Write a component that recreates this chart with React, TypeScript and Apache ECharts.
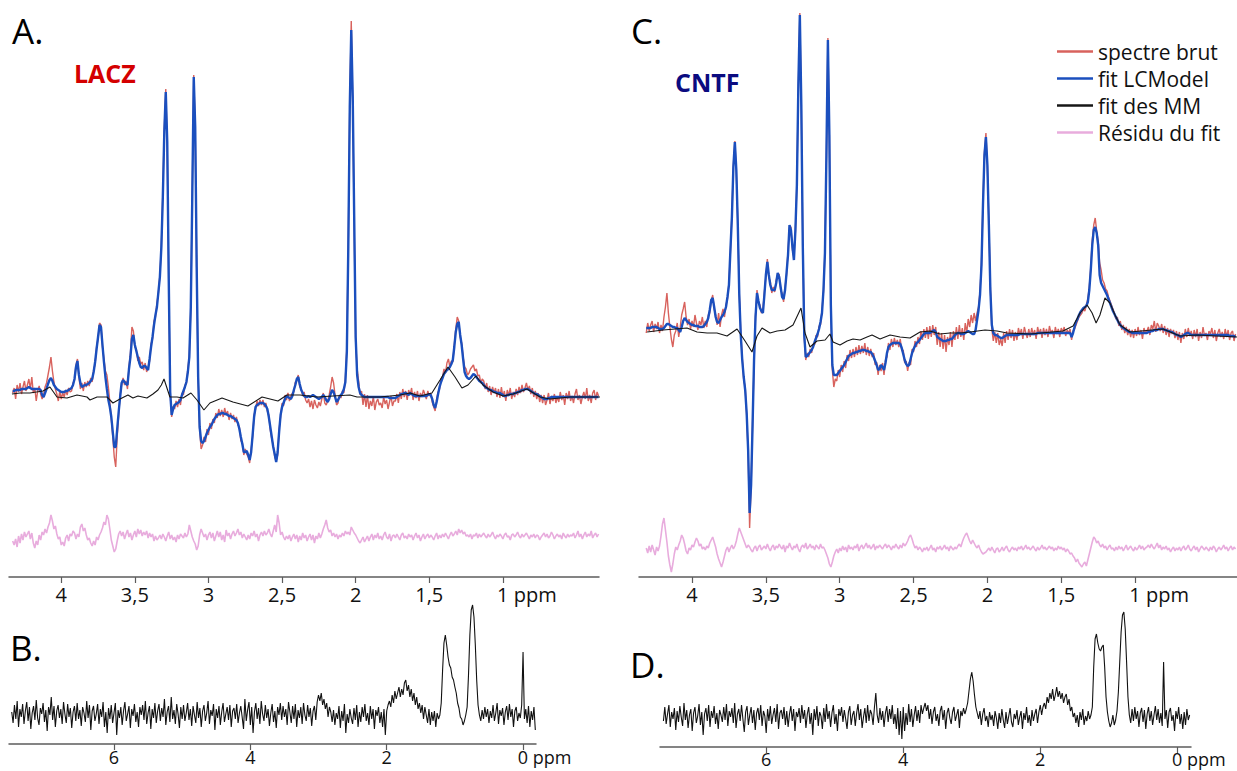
import React, { useEffect, useRef } from "react";
import * as echarts from "echarts";

const FONT = "'Open Sans', 'DejaVu Sans', sans-serif";

// sampling of the spectra (ppm of the first sample, step between samples)
const A_START_PPM = 4.33;
const C_START_PPM = 4.31;
const TOP_STEP = 0.01;
const BD_START_PPM = 7.5;
const BD_STEP = 0.02;

const TOP_TICKS = [4, 3.5, 3, 2.5, 2, 1.5, 1];
const BOTTOM_TICKS = [6, 4, 2, 0];

const LEGEND_NAMES = ["spectre brut", "fit LCModel", "fit des MM", "Résidu du fit"];

// ---------- Panel A (LACZ) ----------
const A_RAW = [
  4, 9, -2, 12, 5, 14, 3, 10, 16, 6,
  12, 18, 8, 20, 4, 9, -4, 6, 11, 3,
  -2, 2, 10, 14, 22, 30, 40, 26, 15, 8,
  3, -4, 6, -2, 4, 0, 7, 2, 9, 5,
  6, 14, 17, 32, 38, 20, 8, 14, 6, 15,
  10, 16, 11, 19, 15, 27, 33, 50, 58, 74,
  72, 50, 38, 26, 22, 10, -5, -22, -40, -60,
  -70, -40, -18, 2, 12, 19, 12, 16, 8, 30,
  44, 70, 66, 50, 48, 36, 40, 33, 35, 27,
  34, 25, 30, 36, 53, 58, 76, 80, 94, 104,
  122, 150, 205, 268, 308, 250, 115, 3, -20, -9,
  -12, -4, -10, -2, -8, 4, 2, 12, 13, 28,
  42, 88, 205, 322, 268, 128, 18, -32, -52, -48,
  -40, -45, -32, -38, -26, -32, -22, -26, -16, -21,
  -12, -19, -13, -20, -11, -18, -14, -23, -16, -22,
  -18, -25, -20, -28, -30, -44, -45, -58, -52, -57,
  -60, -66, -52, -40, -18, -12, -4, -9, -3, -8,
  -3, -10, -6, -14, -18, -33, -42, -48, -60, -64,
  -58, -32, -20, -6, -9, 2, -3, 4, -4, 1,
  4, 5, 15, 16, 22, 10, 9, 1, 5, -3,
  -6, -2, -10, -4, -12, -3, -8, -11, -5, -9,
  -2, 4, -6, -8, -4, 2, 10, 20, 14, 2,
  -8, -6, 2, -1, 6, 4, 18, 50, 155, 295,
  376, 295, 170, 55, 28, 16, 2, 6, -8, 3,
  -10, 2, -12, -4, -9, 1, -13, -5, -2, -8,
  -6, -11, 0, -7, -3, -12, -5, 1, -9, -4,
  -4, 3, -6, 5, -2, 8, 0, 6, -3, 7,
  2, 9, -3, 5, -1, 6, -4, 4, 0, 7,
  3, -2, 6, 1, 4, -5, -10, -14, -2, 5,
  8, 18, 20, 28, 24, 34, 38, 30, 36, 35,
  52, 68, 80, 76, 60, 54, 40, 30, 28, 22,
  24, 28, 30, 32, 26, 28, 21, 22, 14, 18,
  16, 8, 14, 5, 11, 2, 10, 4, 9, 0,
  8, -1, 10, 0, 6, -4, 7, 1, 9, -2,
  5, 0, 8, 2, 10, 4, 12, 5, 9, 14,
  7, 11, 3, 9, 0, 6, -2, 4, -5, 2,
  -6, 2, -8, -3, 4, -7, 1, -4, 3, -6,
  0, -5, 5, -3, 2, -8, 4, -2, 6, -4,
  1, -6, 3, 8, -3, 2, -7, 0, 5, -2,
  9, -4, 2, -6, 4, 7, -3, 5, 1,
];

const A_FIT = [
  6, 6, 7, 7, 7, 7, 8, 8, 8, 8,
  9, 10, 9, 8, 8, 8, 8, 8, 8, 7,
  2, 0, 4, 8, 13, 17, 19, 16, 12, 10,
  8, 7, 6, 5, 5, 5, 6, 6, 7, 8,
  9, 12, 18, 30, 36, 22, 14, 10, 11, 12,
  12, 13, 14, 16, 18, 25, 35, 48, 60, 72,
  70, 52, 35, 20, 8, -3, -10, -20, -35, -50,
  -50, -32, -15, 0, 14, 17, 15, 13, 12, 28,
  40, 58, 62, 52, 46, 40, 34, 30, 29, 31,
  31, 29, 27, 38, 50, 60, 72, 82, 90, 105,
  120, 150, 200, 265, 305, 255, 120, 5, -18, -12,
  -8, -7, -6, -5, -3, 2, 6, 10, 15, 25,
  40, 90, 200, 320, 270, 130, 20, -30, -44, -46,
  -44, -40, -36, -33, -30, -28, -25, -22, -20, -18,
  -17, -17, -16, -16, -17, -17, -18, -19, -19, -20,
  -21, -22, -23, -26, -32, -40, -47, -55, -55, -54,
  -58, -63, -55, -38, -20, -10, -8, -7, -6, -6,
  -6, -7, -9, -12, -20, -30, -40, -50, -57, -65,
  -55, -35, -18, -10, -6, -2, 1, 0, -1, -2,
  1, 7, 12, 18, 20, 13, 7, 4, 1, 0,
  0, 1, 0, 1, 2, 1, 0, -1, -2, -1,
  0, 2, 0, -3, -5, -2, 3, 7, 5, 0,
  -5, -3, 0, 2, 4, 8, 15, 45, 150, 290,
  367, 300, 180, 60, 22, 10, 4, 2, 1, 0,
  0, 0, 0, 0, 0, 0, 0, 0, 0, 0,
  0, 0, 0, 0, 0, 0, -1, -1, -1, -1,
  -1, 0, 1, 2, 3, 3, 4, 4, 3, 2,
  4, 3, 2, 1, 1, 1, 1, 1, 1, 1,
  1, 1, 2, 3, 2, -2, -8, -11, -5, 3,
  10, 15, 19, 23, 25, 27, 28, 30, 33, 37,
  50, 65, 73, 75, 62, 52, 38, 25, 21, 19,
  18, 19, 21, 23, 22, 20, 18, 16, 15, 14,
  12, 10, 9, 8, 7, 7, 6, 5, 5, 4,
  4, 4, 3, 2, 1, 1, 2, 2, 3, 3,
  3, 4, 4, 5, 5, 6, 7, 7, 8, 8,
  8, 7, 6, 5, 4, 3, 3, 2, 1, 0,
  -1, -2, -2, -2, -1, -1, 0, 0, 0, 0,
  0, 0, 0, 0, 0, 0, 0, 0, 0, 0,
  0, 0, 0, 0, 0, 0, 0, 0, 0, 0,
  0, 0, 0, 0, 0, 0, 0, 0, 0,
];

const A_MM: [number, number][] = [
  [4.335, 3], [4.28, 4], [4.213, 4], [4.124, 6], [4.077, 10], [4.029, 0], [3.961, -1],
  [3.893, 2], [3.825, 0], [3.805, -3], [3.757, 0], [3.689, 0], [3.649, -6], [3.601, -2],
  [3.547, 2], [3.513, -1], [3.479, 1], [3.418, -1], [3.377, 3], [3.343, 7], [3.32, 12],
  [3.302, 18], [3.262, 0], [3.214, 0], [3.173, -1], [3.119, 4], [3.078, -3], [3.031, -13],
  [2.99, -6], [2.908, -1], [2.834, -5], [2.732, -9], [2.636, 0], [2.582, -2], [2.528, -4],
  [2.467, 2], [2.378, 2], [2.263, 0], [2.154, 1], [2.039, 2], [1.991, 0], [1.835, 0],
  [1.699, 2], [1.631, 4], [1.563, 1], [1.482, 4], [1.427, 17], [1.373, 30], [1.325, 20],
  [1.278, 9], [1.237, 12], [1.183, 21], [1.135, 12], [1.067, 5], [0.999, 1], [0.931, 3],
  [0.836, 8], [0.748, 0], [0.68, -2], [0.544, 0], [0.34, 0],
];

const A_RES = [
  -4, -8, -2, -10, 1, -6, 3, -3, 5, 0,
  3, 6, -2, 4, -6, -11, -4, -8, 2, -3,
  5, 2, 8, 4, 10, 14, 22, 16, 8, 11,
  3, -2, 0, -8, -5, -9, -1, 2, -4, 3,
  1, 6, 4, -2, 3, 0, 10, 13, 6, 9,
  2, -3, -1, -6, -9, -4, -8, 0, -3, 2,
  5, 9, 15, 12, 22, 18, 8, -3, -9, -15,
  -12, -4, 3, 6, 1, 5, -2, 3, 7, 0,
  4, -3, 2, 6, 0, 8, 3, 7, 1, 5,
  2, 6, -1, 4, 0, 3, -4, 1, -3, -1,
  2, -2, 3, 0, -4, 1, 5, -2, 2, -3,
  0, -5, 2, -2, 3, 1, -1, 4, 0, 3,
  12, 6, 0, -4, -7, -13, -9, 2, 8, 4,
  0, 3, -3, 2, 5, -1, 4, -4, 1, 6,
  0, 5, -3, 2, -5, 7, 1, 4, -2, 3,
  6, 1, 4, 8, 2, 5, -1, 3, 0, -3,
  2, -2, 4, 1, 6, 0, 3, -4, 2, 5,
  1, 6, 2, 4, 8, 3, 0, 6, 12, 5,
  22, 14, 2, 5, 0, -3, 1, -2, 2, -4,
  0, 3, -2, 2, -5, 1, -3, 4, -1, 2,
  -4, 0, 3, -3, 2, -6, 1, -2, 4, -1,
  3, 8, 12, 17, 9, 5, 7, 1, 4, 0,
  3, -2, 2, 0, 4, 1, 6, 3, 5, 2,
  10, 7, 4, 2, -1, -4, -6, -3, 0, -5,
  -2, 1, -4, 0, 3, -3, 2, -1, 4, -2,
  1, -3, 2, 5, 0, -2, 3, -4, 1, 2,
  -1, 3, 0, -3, 2, 4, -1, 1, -2, 3,
  0, 2, -3, 1, 4, -1, 2, -4, 0, 3,
  -2, 1, 3, -1, 2, 0, -3, 1, 4, -2,
  2, -1, 3, 0, 4, 1, -2, 2, 5, 1,
  3, 6, 2, 8, 4, 7, 3, 5, 1, 2,
  0, 3, -2, 2, 1, 4, -1, 3, 0, 2,
  4, 1, -1, 3, 0, 2, 5, 1, -2, 2,
  0, 3, 1, -2, 2, 4, 0, 1, -3, 2,
  3, 0, 2, 5, 1, -1, 3, 0, 2, 4,
  1, -2, 2, 0, 3, -1, 2, 1, -3, 0,
  2, 4, 0, 3, -1, 1, 5, 2, -2, 1,
  3, 0, 2, -2, 4, 1, -1, 3, 0, 2,
  1, 4, -1, 2, 6, 0, 3, -2, 2, 5,
  0, 3, 1, 6, -1, 2, 4, 0, 3,
];

// ---------- Panel C (CNTF) ----------
const C_RAW = [
  2, 12, 4, 10, 14, 3, 11, 6, 13, 2,
  10, 4, 18, 28, 42, 22, 8, -4, -12, 0,
  4, 12, -2, 8, 20, 26, 33, 18, 10, 16,
  6, 14, 8, 20, 12, 5, 14, 10, 18, 7,
  14, 8, 20, 22, 34, 40, 26, 20, 10, 22,
  8, 20, 26, 18, 30, 36, 52, 83, 120, 170,
  194, 163, 112, 42, 3, -22, -45, -52, -80, -118,
  -193, -152, -88, -28, 20, 45, 32, 30, 22, 25,
  43, 58, 76, 57, 54, 42, 48, 43, 55, 60,
  61, 45, 42, 33, 48, 60, 84, 108, 108, 85,
  78, 103, 152, 248, 322, 228, 92, -3, -25, -18,
  -22, -14, -18, -9, -10, 0, -2, 9, 10, 25,
  43, 84, 178, 297, 198, 28, -35, -52, -44, -46,
  -35, -42, -30, -37, -26, -33, -20, -26, -15, -23,
  -14, -22, -12, -20, -10, -19, -11, -18, -8, -20,
  -12, -21, -14, -22, -18, -30, -27, -40, -30, -36,
  -28, -40, -25, -22, -8, -15, -4, -12, -3, -10,
  -5, -12, -4, -16, -15, -28, -26, -36, -27, -30,
  -14, -17, -6, -12, -2, -9, 4, -5, 6, -3,
  8, -4, 9, -2, 10, 0, 8, -10, 3, -12,
  2, -14, 0, -17, -2, -10, 3, -12, 4, -5,
  8, -4, 10, -2, 7, -5, 12, 2, 16, 8,
  20, 12, 22, 14, 22, 28, 44, 72, 132, 183,
  202, 168, 112, 48, 6, -6, 3, -8, 2, -10,
  -4, -11, 2, -8, 4, -5, 6, -3, 5, -6,
  3, -5, 7, 0, 6, -4, 8, 2, -3, 6,
  -2, 7, 0, 5, -4, 8, 1, 6, -3, 7,
  0, 6, -2, 9, 2, 5, -3, 8, 1, 6,
  -2, 7, 3, 8, -1, 5, 2, 6, -5, 4,
  6, 10, 14, 18, 20, 22, 26, 24, 30, 36,
  48, 68, 95, 110, 117, 104, 94, 72, 65, 55,
  52, 46, 44, 38, 34, 30, 26, 22, 16, 18,
  9, 14, 5, 10, 2, 8, 0, 6, -2, 5,
  -3, 6, -1, 8, 0, 5, -4, 7, 2, 4,
  8, 0, 10, 6, 14, 3, 12, 9, 4, 11,
  2, 9, 0, 7, -2, 6, 1, 5, -3, 4,
  -5, 3, -8, 2, -4, 6, -2, 7, -1, 4,
  -4, 5, -2, 6, -6, 3, -3, 8, -1, 2,
  -5, 4, 1, 7, -3, 5, -6, 2, 6, -2,
  3, -4, 6, -2, 5, -5, 2, 4, -6, 1,
];

const C_FIT = [
  7, 7, 7, 7, 8, 8, 8, 8, 7, 6,
  6, 6, 7, 9, 11, 11, 10, 9, 8, 8,
  7, 7, 5, 3, 8, 14, 17, 15, 13, 12,
  11, 10, 10, 9, 9, 9, 8, 8, 8, 9,
  11, 13, 17, 25, 35, 37, 28, 18, 13, 12,
  15, 18, 20, 23, 28, 38, 50, 85, 118, 168,
  193, 165, 110, 40, 0, -25, -42, -55, -78, -115,
  -178, -150, -90, -25, 18, 42, 34, 27, 24, 22,
  40, 60, 73, 60, 50, 45, 45, 45, 52, 62,
  58, 48, 38, 36, 45, 62, 80, 110, 105, 88,
  75, 105, 150, 250, 320, 230, 90, 0, -22, -21,
  -19, -17, -15, -12, -7, -3, 1, 6, 13, 22,
  45, 82, 180, 295, 200, 30, -30, -40, -40, -40,
  -38, -36, -34, -32, -30, -27, -24, -21, -20, -19,
  -18, -18, -17, -17, -16, -16, -15, -15, -15, -16,
  -16, -17, -17, -19, -22, -26, -30, -35, -34, -30,
  -32, -35, -28, -18, -12, -10, -9, -8, -8, -8,
  -8, -8, -9, -13, -19, -25, -29, -31, -30, -24,
  -18, -14, -11, -8, -7, -5, -3, -1, 1, 2,
  2, 2, 2, 3, 4, 5, 3, -2, -3, -4,
  -5, -6, -6, -6, -5, -5, -4, -4, -2, 0,
  1, 2, 2, 1, 1, 1, 2, 3, 4, 3,
  2, 1, 1, 5, 15, 25, 40, 70, 130, 180,
  198, 170, 110, 45, 10, 2, 0, 0, -1, -2,
  -3, -3, -2, -1, 0, 0, 0, 0, 0, 0,
  0, 0, 0, 1, 1, 1, 1, 1, 1, 1,
  1, 1, 1, 1, 1, 2, 2, 2, 2, 2,
  2, 2, 2, 2, 2, 2, 2, 2, 2, 2,
  2, 2, 2, 2, 2, 2, 2, 2, -2, 2,
  8, 13, 16, 20, 23, 25, 27, 28, 29, 33,
  45, 65, 90, 105, 108, 102, 90, 60, 52, 49,
  46, 43, 40, 36, 32, 28, 24, 21, 18, 15,
  12, 10, 8, 7, 6, 5, 4, 3, 3, 2,
  2, 2, 2, 2, 2, 2, 2, 2, 2, 2,
  3, 3, 4, 4, 5, 5, 5, 6, 6, 6,
  6, 5, 5, 4, 4, 3, 3, 2, 1, 0,
  0, -1, -2, -1, 0, 1, 2, 2, 1, 0,
  0, 0, 0, 0, 0, 0, 0, 0, 0, 0,
  0, 0, 0, 0, 0, 0, 0, 0, 0, 0,
  0, 0, 0, 0, 0, -1, -1, -1, -1, -2,
];

const C_MM: [number, number][] = [
  [4.304, 3], [4.196, 5], [4.034, 7], [3.966, 3], [3.898, 2], [3.831, 2], [3.763, -1],
  [3.695, 6], [3.641, -6], [3.594, -17], [3.56, -1], [3.526, 7], [3.472, 2], [3.424, 4],
  [3.37, 5], [3.316, 10], [3.262, 27], [3.235, 2], [3.201, -12], [3.154, -6], [3.099, -5],
  [3.066, 1], [3.045, -7], [2.998, -10], [2.95, -6], [2.91, -4], [2.862, -5], [2.815, -2],
  [2.781, 0], [2.727, -4], [2.659, 0], [2.592, -2], [2.524, -3], [2.456, 3], [2.389, 4],
  [2.321, 1], [2.253, 2], [2.185, 2], [2.118, 3], [2.016, 5], [1.935, 4], [1.867, 2],
  [1.711, 1], [1.488, 4], [1.42, 9], [1.373, 22], [1.325, 30], [1.291, 22], [1.264, 12],
  [1.238, 20], [1.204, 37], [1.17, 32], [1.136, 20], [1.102, 10], [1.034, 3], [0.811, 6],
  [0.696, -1], [0.581, 0], [0.31, -2],
];

const C_RES = [
  2, -3, 4, -2, 5, 0, -5, 3, -1, 4,
  14, 26, 32, 20, 8, -6, -15, -22, -14, -4,
  3, 0, 5, 9, 15, 12, 6, -1, -4, 2,
  0, 5, 3, 8, 12, 9, 4, 6, 1, 3,
  0, 4, 2, 7, 10, 13, 8, 3, -4, -9,
  -13, -17, -12, -6, 0, 3, -2, 2, 5, 1,
  4, 9, 16, 22, 18, 14, 10, 6, 2, 5,
  3, 0, -2, 2, 4, -1, 3, 5, 0, 2,
  4, 1, 6, 2, -1, 3, 5, 0, 4, 2,
  6, 3, 1, 5, -2, 4, 2, 7, 3, 0,
  4, 2, 6, 1, -2, 3, 5, 2, 7, 1,
  3, 6, 2, 4, 0, 5, 3, 1, 6, 2,
  3, 0, -4, -8, -14, -17, -12, -6, -2, 1,
  -3, 2, -1, 4, 0, 3, -2, 5, 1, 3,
  0, 4, 2, 6, -1, 3, 5, 1, 4, 7,
  2, 5, 1, 3, 6, 0, 4, 2, 5, 3,
  1, 4, 6, 2, 5, 3, 0, 4, 2, 6,
  3, 1, 5, 2, 7, 4, 6, 9, 13, 15,
  11, 6, 2, 4, 0, 3, 1, -2, 2, 0,
  3, -1, 2, 5, 0, 2, -2, 3, 1, 4,
  0, 2, 5, 1, 3, -1, 4, 2, 0, 3,
  1, 4, 6, 3, 8, 12, 15, 17, 13, 9,
  6, 10, 7, 4, 2, 5, 1, -2, -4, -3,
  -2, 0, 2, -1, 3, 0, -3, 1, 2, -2,
  0, 3, -1, 2, 4, 0, -2, 1, 3, 0,
  2, -1, 3, 1, 4, 0, 2, 5, 1, 3,
  0, 2, 4, 1, -1, 3, 0, 2, 5, 1,
  3, 0, 2, 4, 1, 3, -1, 2, 0, 4,
  1, 3, 0, 2, -2, 1, -1, -4, -3, -6,
  -8, -12, -9, -13, -15, -17, -14, -12, -16, -10,
  -4, 2, 8, 13, 11, 7, 9, 5, 3, 6,
  2, 4, 0, 3, 5, 1, 2, -1, 3, 0,
  4, 1, 3, -1, 2, 5, 0, 2, 4, 1,
  -1, 3, 0, 2, 5, 1, 4, 0, 2, 3,
  5, 2, 6, 3, 1, 4, 7, 2, 5, 0,
  3, 1, 4, 0, 2, -2, 1, 3, -1, 2,
  0, 3, -1, 2, 4, 0, 2, 5, 1, -1,
  2, 4, 0, 3, -2, 1, 4, 2, 0, 3,
  1, -1, 3, 0, 4, 2, -2, 1, 3, 0,
  2, 5, 1, 3, -1, 2, 4, 0, 3, 1,
];

// ---------- Panel B (LACZ, wide range) ----------
const B_SPEC = [
  3, -8, 10, -4, 14, -12, 6, -2, 11, -9,
  4, 13, -6, 8, -14, 2, 9, -5, 15, -3,
  -10, 7, 1, 12, -7, 5, -16, 8, 0, 18,
  -5, 9, -12, 4, 10, -3, 6, -9, 13, 1,
  -8, 11, -2, 7, -13, 3, 9, -6, 12, -4,
  5, -11, 8, 2, -7, 14, -3, 10, -15, 4,
  9, -6, 1, 11, -9, 6, -2, 13, -12, 3,
  -18, 7, -4, 10, -8, 2, 12, -20, 5, -3,
  8, -10, 4, 13, -6, 1, 9, -13, 6, -1,
  11, -7, 3, -12, 8, 0, 10, -5, 14, -9,
  2, 9, -14, 6, -3, 12, -8, 4, 11, -6,
  7, -2, 16, -10, 3, 9, -7, 18, -4, 5,
  -9, 11, 1, -13, 8, -4, 10, -6, 2, 12,
  -5, 6, -11, 9, 0, -8, 13, -3, 7, -12,
  4, 10, -6, 2, 14, -9, 5, -1, 11, -15,
  6, -3, 9, -10, 3, 12, -7, 1, 8, -5,
  10, -12, 4, 7, -4, 11, -8, 2, 9, -2,
  -14, 16, -6, 5, 13, -10, 8, -18, 3, 12,
  -4, 7, -9, 14, 1, -6, 10, -3, 6, -11,
  2, 11, -7, 4, -13, 8, 0, 12, -5, 9,
  -2, 6, -10, 13, 3, -8, 9, -4, 11, -12,
  5, -3, 8, -9, 12, 0, -6, 10, -2, 7,
  -11, 4, 9, -5, 13, 20, 14, 22, 10, 16,
  6, 12, -2, 8, 3, -7, 5, -10, 2, -4,
  9, -13, 4, -6, 11, -18, 1, -8, 6, -3,
  -9, 7, -5, 10, -12, 3, -7, 8, -2, 11,
  -6, 2, -10, 9, -4, 6, -14, 5, -1, 8,
  -8, 3, -12, 6, -20, 4, 10, 14, 8, 20,
  12, 24, 16, 22, 28, 18, 26, 20, 32, 35,
  24, 30, 18, 26, 14, 22, 10, 18, 6, 12,
  2, 10, -4, 8, 0, -8, 6, -10, 3, -6,
  4, -12, 2, -4, 0, 12, 45, 72, 80, 70,
  58, 50, 47, 38, 35, 28, 22, 12, 7, -2,
  -4, -10, -6, 0, 8, 40, 80, 105, 110, 98,
  70, 35, 10, 0, -6, 5, -4, 8, -2, 6,
  -8, 4, -3, 10, -6, 2, 12, -9, 5, -1,
  7, -10, 3, 9, -5, 11, -2, 6, -12, 4,
  8, -6, 2, -3, 10, 63, -4, 6, -8, 9,
  -12, 4, -5, 8, -15,
];

// ---------- Panel D (CNTF, wide range) ----------
const D_SPEC = [
  -4, 10, -7, 3, 12, -10, 5, -2, 9, -13,
  6, -5, 11, 0, -9, 14, -3, 7, -11, 2,
  8, -14, 4, 10, -6, 1, 13, -8, 5, -18,
  3, 9, -4, 12, -10, 6, -1, 11, -7, 4,
  -12, 7, 2, -5, 10, -3, 13, -9, 6, 0,
  9, -6, 14, -11, 3, 8, -4, 12, -2, -15,
  5, 11, -8, 2, 10, -6, 7, -13, 4, 9,
  -3, 12, -9, 6, 1, -16, 8, -4, 11, -7,
  2, 9, -5, 13, -12, 4, 7, -2, 10, -8,
  6, -10, 3, 11, -4, 8, -14, 5, 0, 9,
  -6, 12, -2, 7, -11, 3, 10, -7, 4, -18,
  8, -3, 11, -9, 5, 1, -12, 9, -5, 13,
  -2, 6, -10, 4, 12, -7, 3, -14, 8, 1,
  10, -5, 7, -2, -12, 5, 11, -8, 2, 6,
  -9, 4, 13, -3, 8, -11, 0, 9, -6, 12,
  -4, 7, 3, -8, 10, 24, 2, -6, 9, -3,
  6, -10, 4, 11, -5, 8, -2, 12, -7, 3,
  -12, 9, -18, 6, -22, 10, -14, 4, -8, 13,
  -5, 8, -10, 2, 11, -4, 7, -6, 12, 3,
  9, 14, 6, 12, -2, 8, -7, 5, 10, -4,
  3, -9, 6, 11, -3, 7, -12, 4, 9, -1,
  -7, 5, 10, -4, 2, 8, -11, 6, 1, 9,
  3, 8, 14, 26, 38, 45, 36, 22, 10, 4,
  -2, 6, -8, 3, 9, -4, 1, -10, 5, -3,
  2, -9, 6, -1, -12, 4, -6, 8, -3, -11,
  5, -7, 1, 9, -5, -10, 3, -2, 7, -8,
  0, 6, -12, 4, -3, 10, -6, 2, -9, 7,
  -4, 3, 8, -6, 5, 12, 2, 10, 14, 8,
  20, 14, 24, 18, 28, 16, 22, 30, 20, 26,
  18, 24, 14, 20, 23, 12, 18, 6, 10, 0,
  4, -6, 2, -10, 5, -3, 8, -8, 1, -4,
  6, -2, 2, 10, 50, 78, 83, 74, 68, 66,
  70, 72, 50, 20, 5, -4, -10, -6, 2, -8,
  -3, 6, 25, 55, 85, 102, 105, 88, 55, 20,
  2, -6, 8, -4, 10, -2, 6, -10, 4, 9,
  -5, 7, -12, 3, 10, -4, 6, -8, 2, 11,
  -3, 8, -6, 4, -9, 55, -2, 7, -11, 5,
  9, -4, 2, -14, 6, -2, 10, -7, 3, -12,
  5, -8, 8, -3, 2,
];

const COLORS = {
  raw: "#d8625d",
  fit: "#1b4fbe",
  mm: "#161616",
  res: "#e8acdd",
  wide: "#111111",
  axis: "#5c5c5c",
};

function onGrid(values: number[], start: number, step: number): [number, number][] {
  return values.map((v, i) => [Math.round((start - i * step) * 1000) / 1000, v]);
}

function lineSeries(name: string, data: [number, number][], xi: number, yi: number, color: string, width: number, z: number) {
  return {
    type: "line",
    name,
    data,
    xAxisIndex: xi,
    yAxisIndex: yi,
    symbol: "none",
    showSymbol: false,
    smooth: false,
    silent: true,
    z,
    lineStyle: { color, width },
    itemStyle: { color },
    emphasis: { disabled: true },
  };
}

const topFormatter = (v: number) => (v === 1 ? "{u|1 ppm}" : String(v).replace(".", ","));
const bottomFormatter = (v: number) => (v === 0 ? "{u|0 ppm}" : String(v));

function ppmAxis(gridIndex: number, min: number, max: number, ticks: number[], formatter: (v: number) => string, fontSize: number, margin: number) {
  return {
    type: "value",
    gridIndex,
    min,
    max,
    inverse: true,
    axisLine: { show: true, onZero: false, lineStyle: { color: COLORS.axis, width: 1.5 } },
    axisTick: { show: true, customValues: ticks, length: 6, lineStyle: { color: COLORS.axis, width: 1.2 } },
    axisLabel: {
      show: true,
      customValues: ticks,
      formatter,
      color: "#111",
      fontSize,
      fontFamily: FONT,
      margin,
      rich: { u: { color: "#111", fontSize, fontFamily: FONT, padding: [0, 0, 0, Math.round(fontSize * 2.4)] } },
    },
    splitLine: { show: false },
  };
}

function hiddenY(gridIndex: number, min: number, max: number) {
  return { type: "value", gridIndex, min, max, show: false, splitLine: { show: false } };
}

export default function App() {
  const ref = useRef<HTMLDivElement>(null);

  useEffect(() => {
    if (!ref.current) return;
    const chart = echarts.init(ref.current, undefined, { renderer: "svg" });

    const option = {
      animation: false,
      backgroundColor: "#ffffff",
      grid: [
        { left: 9, top: 10, width: 590, height: 567 },
        { left: 639, top: 10, width: 598, height: 567 },
        { left: 9, top: 600, width: 527, height: 144 },
        { left: 660, top: 600, width: 531, height: 147 },
      ],
      xAxis: [
        ppmAxis(0, 0.347, 4.355, TOP_TICKS, topFormatter, 20, 7),
        ppmAxis(1, 0.31, 4.359, TOP_TICKS, topFormatter, 20, 7),
        ppmAxis(2, -0.19, 7.54, BOTTOM_TICKS, bottomFormatter, 18, 4),
        ppmAxis(3, -0.2, 7.55, BOTTOM_TICKS, bottomFormatter, 18, 3),
      ],
      yAxis: [
        hiddenY(0, -180, 387),
        hiddenY(0, -40, 527),
        hiddenY(1, -242, 325),
        hiddenY(1, -27, 540),
        hiddenY(2, -29, 115),
        hiddenY(3, -30, 117),
      ],
      legend: {
        data: LEGEND_NAMES,
        orient: "vertical",
        left: 1057,
        top: 41,
        padding: 0,
        itemWidth: 36,
        itemHeight: 2.5,
        itemGap: 6,
        icon: "rect",
        selectedMode: false,
        textStyle: { fontSize: 21, color: "#111", fontFamily: FONT },
      },
      graphic: [
        { type: "text", left: 12, top: 13, style: { text: "A.", fontSize: 35, fill: "#000", fontFamily: FONT } },
        { type: "text", left: 74, top: 60, style: { text: "LACZ", fontSize: 25, fontWeight: "bold", fill: "#d40000", fontFamily: FONT } },
        { type: "text", left: 631, top: 13, style: { text: "C.", fontSize: 35, fill: "#000", fontFamily: FONT } },
        { type: "text", left: 675, top: 69, style: { text: "CNTF", fontSize: 25, fontWeight: "bold", fill: "#0b0b80", fontFamily: FONT } },
        { type: "text", left: 10, top: 630, style: { text: "B.", fontSize: 35, fill: "#000", fontFamily: FONT } },
        { type: "text", left: 630, top: 647, style: { text: "D.", fontSize: 35, fill: "#000", fontFamily: FONT } },
      ],
      series: [
        lineSeries("spectre brut", onGrid(A_RAW, A_START_PPM, TOP_STEP), 0, 0, COLORS.raw, 1.4, 1),
        lineSeries("fit LCModel", onGrid(A_FIT, A_START_PPM, TOP_STEP), 0, 0, COLORS.fit, 2.4, 2),
        lineSeries("fit des MM", A_MM, 0, 0, COLORS.mm, 1.1, 3),
        lineSeries("Résidu du fit", onGrid(A_RES, A_START_PPM, TOP_STEP), 0, 1, COLORS.res, 1.6, 1),
        lineSeries("spectre brut", onGrid(C_RAW, C_START_PPM, TOP_STEP), 1, 2, COLORS.raw, 1.4, 1),
        lineSeries("fit LCModel", onGrid(C_FIT, C_START_PPM, TOP_STEP), 1, 2, COLORS.fit, 2.4, 2),
        lineSeries("fit des MM", C_MM, 1, 2, COLORS.mm, 1.1, 3),
        lineSeries("Résidu du fit", onGrid(C_RES, C_START_PPM, TOP_STEP), 1, 3, COLORS.res, 1.6, 1),
        lineSeries("spectre B", onGrid(B_SPEC, BD_START_PPM, BD_STEP), 2, 4, COLORS.wide, 1.1, 1),
        lineSeries("spectre D", onGrid(D_SPEC, BD_START_PPM, BD_STEP), 3, 5, COLORS.wide, 1.1, 1),
      ],
    };

    chart.setOption(option as any);
    return () => chart.dispose();
  }, []);

  return (
    <div
      ref={ref}
      style={{ position: "absolute", left: 0, top: 0, width: 1237, height: 771, background: "#fff" }}
    />
  );
}
